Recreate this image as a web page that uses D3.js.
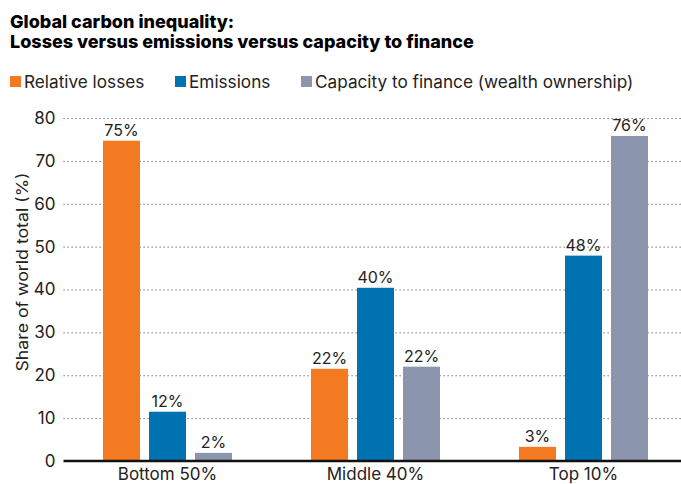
<!DOCTYPE html>
<html>
<head>
<meta charset="utf-8">
<script src="https://cdn.jsdelivr.net/npm/d3@7"></script>
<style>
  body { margin: 0; background: #fff; }
  svg { display: block; font-family: Inter, "Noto Sans", sans-serif; }
</style>
</head>
<body>
<div id="chart"></div>
<script>
// data
const groups = ['Bottom 50%', 'Middle 40%', 'Top 10%'];
const seriesNames = ['Relative losses', 'Emissions', 'Capacity to finance (wealth ownership)'];
const losses = [74.7, 21.5, 3.3];
const emissions = [11.5, 40.4, 47.9];
const capacity = [1.9, 22.0, 75.8];
const lossesLabels = ['75%', '22%', '3%'];
const emissionsLabels = ['12%', '40%', '48%'];
const capacityLabels = ['2%', '22%', '76%'];
const yTicks = [0, 10, 20, 30, 40, 50, 60, 70, 80];

const colors = ['#f47a22', '#0072b1', '#8b95ad'];
const series = [losses, emissions, capacity];
const seriesLabels = [lossesLabels, emissionsLabels, capacityLabels];

const width = 681, height = 484;
const margin = { top: 118, right: 0, bottom: 23, left: 63.5 };

const svg = d3.select('#chart').append('svg')
  .attr('width', width)
  .attr('height', height);

// title
svg.append('text')
  .attr('x', 10).attr('y', 28)
  .attr('font-size', 18).attr('font-weight', 800)
  .text('Global carbon inequality:');
svg.append('text')
  .attr('x', 10).attr('y', 48)
  .attr('font-size', 18).attr('font-weight', 800)
  .text('Losses versus emissions versus capacity to finance');

// legend
const legendX = [10, 175, 301];
const legend = svg.append('g');
seriesNames.forEach((name, i) => {
  legend.append('rect')
    .attr('x', legendX[i]).attr('y', 76)
    .attr('width', 11).attr('height', 11)
    .attr('fill', colors[i]);
  legend.append('text')
    .attr('x', legendX[i] + 14).attr('y', 88)
    .attr('font-size', 17.2).attr('fill', '#222')
    .text(name);
});

// scales
const y = d3.scaleLinear()
  .domain([0, 80])
  .range([height - margin.bottom, margin.top]);

const x0 = d3.scaleBand()
  .domain(groups)
  .range([63.5, 687.5]);

const clusterW = 129;
const x1 = d3.scaleBand()
  .domain(d3.range(series.length))
  .range([0, clusterW])
  .paddingInner(9 / 46);

const groupOffset = (x0.bandwidth() - clusterW) / 2;

// grid
const grid = svg.append('g')
  .attr('transform', `translate(${margin.left},0)`)
  .call(d3.axisLeft(y)
    .tickValues(yTicks)
    .tickSize(-(width - margin.left))
    .tickFormat(''));
grid.select('.domain').remove();
grid.selectAll('line')
  .attr('stroke', '#555')
  .attr('stroke-width', 1)
  .attr('stroke-dasharray', '1.2,2.8');
grid.selectAll('.tick').filter(d => d === 0).remove();

// y axis labels
const yAxis = svg.append('g')
  .attr('transform', `translate(${margin.left - 8},0)`)
  .call(d3.axisLeft(y).tickValues(yTicks).tickSize(0).tickPadding(0));
yAxis.select('.domain').remove();
yAxis.selectAll('text')
  .attr('font-size', 17)
  .attr('fill', '#222')
  .attr('font-family', 'Inter, "Noto Sans", sans-serif');

svg.append('text')
  .attr('transform', `translate(28,272) rotate(-90)`)
  .attr('text-anchor', 'middle')
  .attr('font-size', 15.5)
  .attr('textLength', 199)
  .attr('lengthAdjust', 'spacingAndGlyphs')
  .attr('fill', '#222')
  .text('Share of world total (%)');

// bars
const gGroups = svg.append('g')
  .selectAll('g')
  .data(groups)
  .join('g')
  .attr('transform', d => `translate(${x0(d) + groupOffset},0)`);

gGroups.each(function (grp, gi) {
  const g = d3.select(this);
  series.forEach((vals, si) => {
    g.append('rect')
      .attr('x', x1(si))
      .attr('y', y(vals[gi]))
      .attr('width', x1.bandwidth())
      .attr('height', y(0) - y(vals[gi]))
      .attr('fill', colors[si]);
    g.append('text')
      .attr('x', x1(si) + x1.bandwidth() / 2)
      .attr('y', y(vals[gi]) - 5)
      .attr('text-anchor', 'middle')
      .attr('font-size', 16)
      .attr('fill', '#222')
      .text(seriesLabels[si][gi]);
  });
});

// baseline
svg.append('line')
  .attr('x1', margin.left).attr('x2', width)
  .attr('y1', y(0)).attr('y2', y(0))
  .attr('stroke', '#111').attr('stroke-width', 2.5);

// x axis labels
const xAxis = svg.append('g')
  .attr('transform', `translate(0,${y(0)})`)
  .call(d3.axisBottom(x0).tickSize(0).tickPadding(7));
xAxis.select('.domain').remove();
xAxis.selectAll('text')
  .attr('font-size', 17)
  .attr('fill', '#222')
  .attr('font-family', 'Inter, "Noto Sans", sans-serif');
</script>
</body>
</html>
